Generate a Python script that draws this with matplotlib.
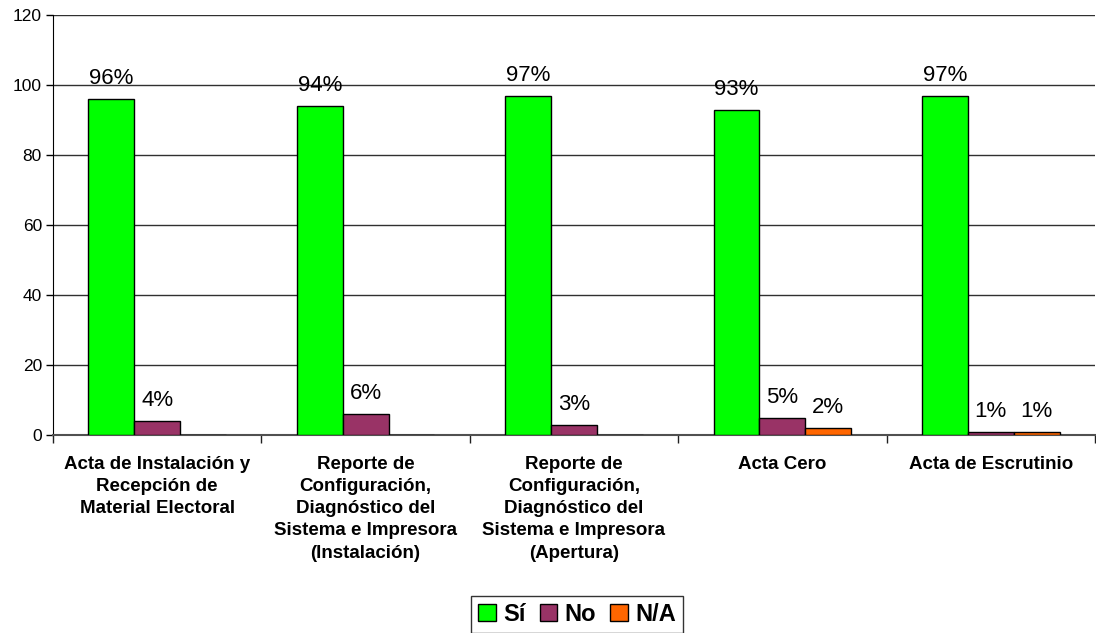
import matplotlib
matplotlib.use("Agg")
import matplotlib.pyplot as plt
import numpy as np

# Datos del gráfico
categorias = [
    "Acta de Instalación y\nRecepción de\nMaterial Electoral",
    "Reporte de\nConfiguración,\nDiagnóstico del\nSistema e Impresora\n(Instalación)",
    "Reporte de\nConfiguración,\nDiagnóstico del\nSistema e Impresora\n(Apertura)",
    "Acta Cero",
    "Acta de Escrutinio",
]
series = ["Sí", "No", "N/A"]
valores_si = [96, 94, 97, 93, 97]
valores_no = [4, 6, 3, 5, 1]
valores_na = [0, 0, 0, 2, 1]

colores = ["#00FF00", "#993366", "#FF6600"]

plt.rcParams["font.family"] = ["Liberation Sans", "DejaVu Sans"]

fig = plt.figure(figsize=(10.96, 6.33), dpi=100)
ax = fig.add_axes([53 / 1096, 1 - 435 / 633, (1095 - 53) / 1096, 420 / 633])

x = np.arange(len(categorias))
width = 0.22
datos = [valores_si, valores_no, valores_na]

for i, (vals, col, nombre) in enumerate(zip(datos, colores, series)):
    pos = x + (i - 1) * width
    ax.bar(pos, vals, width=width, color=col, edgecolor="black",
           linewidth=1, label=nombre, zorder=3)
    # etiquetas de porcentaje sobre las barras
    for xp, v in zip(pos, vals):
        if v > 0:
            ax.annotate(f"{v}%", (xp, v), xytext=(0, 7), textcoords="offset points",
                        ha="center", va="bottom", fontsize=16)

ax.set_xlim(-0.5, len(categorias) - 0.5)
ax.set_ylim(0, 120)
ax.set_yticks(range(0, 121, 20))
ax.tick_params(axis="y", labelsize=12.5, length=5, width=1, pad=3)

ax.set_xticks(x)
ax.set_xticklabels(categorias, fontsize=13.5, fontweight="bold", linespacing=1.4)
ax.tick_params(axis="x", which="major", length=0, pad=15)
ax.set_xticks(np.arange(len(categorias) + 1) - 0.5, minor=True)
ax.tick_params(axis="x", which="minor", length=6, width=1, color="#202020")

ax.yaxis.grid(True, color="#303030", linewidth=1, zorder=0)
ax.set_axisbelow(True)
ax.spines["top"].set_visible(False)
ax.spines["right"].set_visible(False)
ax.spines["left"].set_color("black")
ax.spines["bottom"].set_color("#505050")
ax.spines["bottom"].set_linewidth(1.5)

handles = [plt.Rectangle((0, 0), 1, 1, facecolor=c, edgecolor="black", linewidth=1)
           for c in colores]
leg = fig.legend(handles, series, loc="upper center", bbox_to_anchor=(577 / 1096, 1 - 596 / 633),
                 ncol=3, frameon=True, fancybox=False, edgecolor="black",
                 prop={"weight": "bold", "size": 17}, handlelength=0.75, handleheight=0.75,
                 handletextpad=0.3, columnspacing=0.6, borderpad=0.3, borderaxespad=0)
leg.get_frame().set_linewidth(1)

fig.savefig("out.png", dpi=100)
